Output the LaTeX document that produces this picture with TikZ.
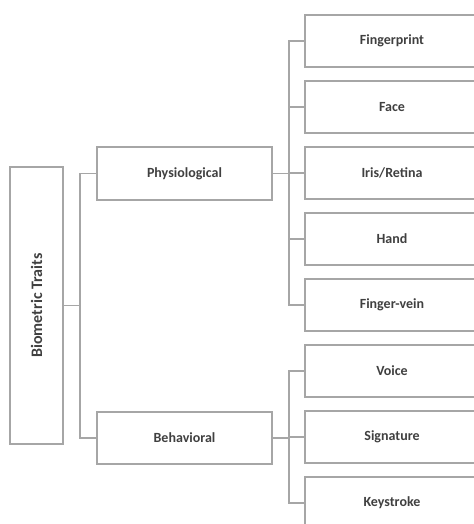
\documentclass[tikz,border=0pt]{standalone}
\usepackage{fontspec}
\setmainfont{Carlito}
\usetikzlibrary{positioning,calc}
\definecolor{btgray}{RGB}{166,166,166}
\definecolor{bttext}{RGB}{64,64,64}
\tikzset{
    trait/.style={
        draw=btgray,line width=1pt,fill=white,inner sep=0pt,
        minimum width=#1,minimum height=39pt,
        align=center,text=bttext,font=\fontsize{10.5pt}{12.6pt}\selectfont\bfseries
    },
    trait/.default=130.5pt,
    branch/.style={
        draw=btgray,line width=1pt
    }
}
\begin{document}
\begin{tikzpicture}[x=0.75pt,y=-0.75pt]

\clip (0,0) rectangle (474,524);
\useasboundingbox (0,0) rectangle (474,524);

% root and the two groups
\node[trait=207.75pt,minimum height=39.75pt,rotate=90,
      font=\fontsize{12pt}{14.4pt}\selectfont\bfseries] (bio) at (36.5,305.5) {Biometric Traits};
\node[trait=131.25pt,minimum height=39.75pt] (phys) at (184.5,173.5) {Physiological};
\node[trait=131.25pt] (behav) at (184.5,438) {Behavioral};

% leaves
\node[trait] (finger) at (392,41) {Fingerprint};
\node[trait] (face) at (392,107) {Face};
\node[trait] (iris) at (392,173) {Iris/Retina};
\node[trait] (hand) at (392,239) {Hand};
\node[trait] (vein) at (392,305) {Finger-vein};
\node[trait] (voice) at (392,371) {Voice};
\node[trait] (sign) at (392,437) {Signature};
\node[trait] (key) at (392,503) {Keystroke};

% split points
\coordinate (rootsplit) at (80,305.5);
\coordinate (physsplit) at (289,173.5);
\coordinate (behavsplit) at (289,438);

\draw[branch] (bio.south) -- (rootsplit);
\draw[branch] (phys.west) -| (rootsplit) |- (behav.west);

\draw[branch] (phys.east) -- (physsplit);
\foreach \leaf in {finger,face,iris,hand,vein}
    \draw[branch] (physsplit) |- (\leaf.west);

\draw[branch] (behav.east) -- (behavsplit);
\foreach \leaf in {voice,sign,key}
    \draw[branch] (behavsplit) |- (\leaf.west);

\end{tikzpicture}
\end{document}
